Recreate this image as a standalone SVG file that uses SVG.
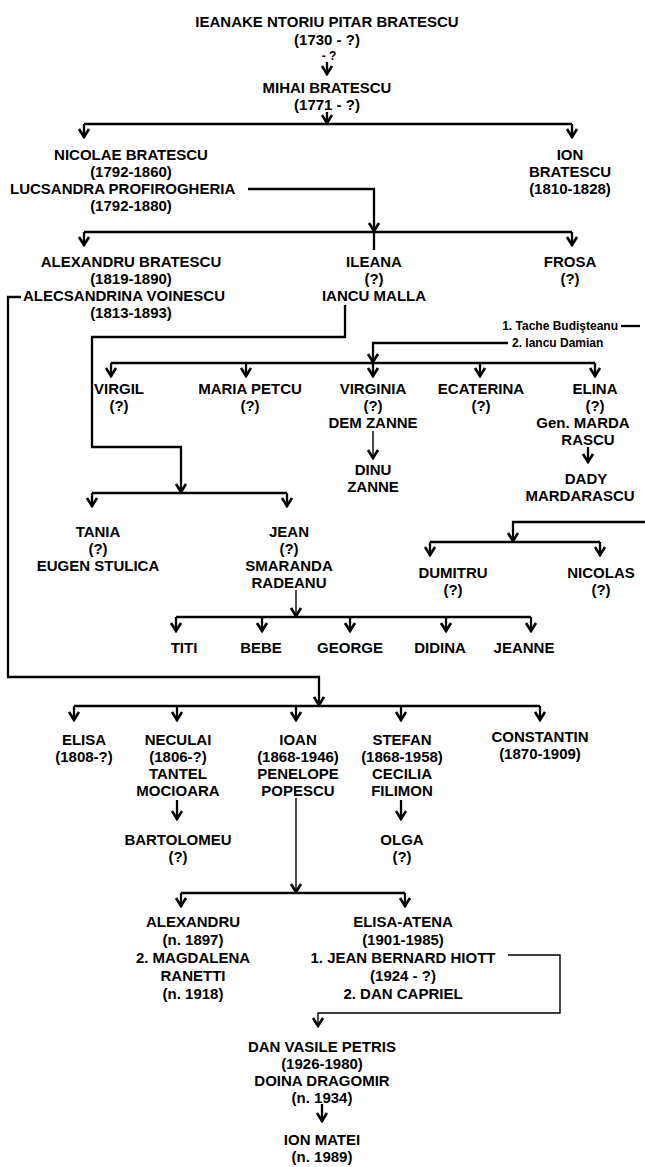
<svg xmlns="http://www.w3.org/2000/svg" width="645" height="1167" viewBox="0 0 645 1167">
<style>
text{font-family:"Liberation Sans",Arial,sans-serif;font-weight:bold;font-size:15px;fill:#000;text-anchor:middle}
.sm{font-size:12px}
.st{text-anchor:start}
.en{text-anchor:end}
.c{fill:none;stroke:#000;stroke-width:2.3}
.t{fill:none;stroke:#000;stroke-width:1.4}
.a{marker-end:url(#ah)}
</style>
<defs>
<marker id="ah" viewBox="-10 -7 12 14" refX="1" refY="0" markerWidth="12" markerHeight="14" markerUnits="userSpaceOnUse" orient="auto">
<path d="M-8,-5 L0,0 L-8,5" fill="none" stroke="#000" stroke-width="2.6"/>
</marker>
</defs>
<rect width="645" height="1167" fill="#fff"/>
<g id="connectors">
<line class="c a" x1="327" y1="62" x2="327" y2="75"/>
<line class="c a" x1="327" y1="112" x2="327" y2="124"/>
<line class="c" x1="84" y1="124" x2="572" y2="124"/>
<line class="c a" x1="84" y1="124" x2="84" y2="138"/>
<line class="c a" x1="572" y1="124" x2="572" y2="138"/>
<polyline class="c a" points="248,189 374,189 374,232"/>
<line class="c" x1="84" y1="232" x2="572" y2="232"/>
<line class="c a" x1="84" y1="232" x2="84" y2="246"/>
<line class="c a" x1="572" y1="232" x2="572" y2="246"/>
<line class="c" x1="374" y1="232" x2="374" y2="250"/>
<polyline class="c a" points="21,297 8,297 8,677 319,677 319,706"/>
<line class="c" x1="74" y1="706" x2="540" y2="706"/>
<line class="c a" x1="74" y1="706" x2="74" y2="721"/>
<line class="c a" x1="177" y1="706" x2="177" y2="721"/>
<line class="c a" x1="296" y1="706" x2="296" y2="721"/>
<line class="c a" x1="401" y1="706" x2="401" y2="721"/>
<line class="c a" x1="540" y1="706" x2="540" y2="721"/>
<polyline class="c a" points="345,305 345,337 92,337 92,447 181,447 181,493"/>
<line class="c" x1="92" y1="493" x2="287" y2="493"/>
<line class="c a" x1="92" y1="493" x2="92" y2="507"/>
<line class="c a" x1="287" y1="493" x2="287" y2="507"/>
<polyline class="c a" points="508,343 373,343 373,363"/>
<line class="c" x1="621" y1="326" x2="640" y2="326"/>
<line class="c" x1="111" y1="363" x2="595" y2="363"/>
<line class="c a" x1="111" y1="363" x2="111" y2="377"/>
<line class="c a" x1="246" y1="363" x2="246" y2="377"/>
<line class="c a" x1="373" y1="363" x2="373" y2="377"/>
<line class="c a" x1="480" y1="363" x2="480" y2="377"/>
<line class="c a" x1="595" y1="363" x2="595" y2="377"/>
<line class="t a" x1="373" y1="431" x2="373" y2="459"/>
<line class="c a" x1="588" y1="447" x2="588" y2="463"/>
<polyline class="c a" points="645,522 513,522 513,542"/>
<line class="c" x1="430" y1="542" x2="600" y2="542"/>
<line class="c a" x1="430" y1="542" x2="430" y2="556"/>
<line class="c a" x1="600" y1="542" x2="600" y2="556"/>
<line class="t a" x1="296" y1="590" x2="296" y2="617"/>
<line class="c" x1="176" y1="617" x2="531" y2="617"/>
<line class="c a" x1="176" y1="617" x2="176" y2="632"/>
<line class="c a" x1="262" y1="617" x2="262" y2="632"/>
<line class="c a" x1="350" y1="617" x2="350" y2="632"/>
<line class="c a" x1="446" y1="617" x2="446" y2="632"/>
<line class="c a" x1="531" y1="617" x2="531" y2="632"/>
<line class="c a" x1="177" y1="800" x2="177" y2="820"/>
<line class="c a" x1="401" y1="800" x2="401" y2="820"/>
<line class="t a" x1="296" y1="798" x2="296" y2="893"/>
<line class="c" x1="181" y1="893" x2="405" y2="893"/>
<line class="c a" x1="181" y1="893" x2="181" y2="907"/>
<line class="c a" x1="405" y1="893" x2="405" y2="907"/>
<polyline class="t a" points="508,955 560,955 560,1013 318,1013 318,1027"/>
<line class="c a" x1="322" y1="1104" x2="322" y2="1122"/>
</g>
<g id="n-ieanake">
<text x="327" y="27">IEANAKE NTORIU PITAR BRATESCU</text>
<text x="327" y="45">(1730 - ?)</text>
<text x="329" y="60" class="sm">- ?</text>
</g>
<g id="n-mihai">
<text x="327" y="93">MIHAI BRATESCU</text>
<text x="327" y="110">(1771 - ?)</text>
</g>
<g id="n-nicolae">
<text x="131" y="160">NICOLAE BRATESCU</text>
<text x="131" y="177">(1792-1860)</text>
<text x="10" y="194" class="st">LUCSANDRA PROFIROGHERIA</text>
<text x="131" y="211">(1792-1880)</text>
</g>
<g id="n-ion">
<text x="570" y="160">ION</text>
<text x="570" y="177">BRATESCU</text>
<text x="570" y="194">(1810-1828)</text>
</g>
<g id="n-alexandru">
<text x="131" y="267">ALEXANDRU BRATESCU</text>
<text x="131" y="284">(1819-1890)</text>
<text x="23" y="301" class="st">ALECSANDRINA VOINESCU</text>
<text x="131" y="318">(1813-1893)</text>
</g>
<g id="n-ileana">
<text x="374" y="267">ILEANA</text>
<text x="374" y="284">(?)</text>
<text x="374" y="301">IANCU MALLA</text>
</g>
<g id="n-frosa">
<text x="570" y="267">FROSA</text>
<text x="570" y="284">(?)</text>
</g>
<g id="n-spouses">
<text x="618" y="330" class="sm en">1. Tache Budişteanu</text>
<text x="512" y="347" class="sm st">2. Iancu Damian</text>
</g>
<g id="n-virgil">
<text x="119" y="394">VIRGIL</text>
<text x="119" y="411">(?)</text>
</g>
<g id="n-maria">
<text x="250" y="394">MARIA PETCU</text>
<text x="250" y="411">(?)</text>
</g>
<g id="n-virginia">
<text x="373" y="394">VIRGINIA</text>
<text x="373" y="411">(?)</text>
<text x="373" y="428">DEM ZANNE</text>
</g>
<g id="n-ecaterina">
<text x="481" y="394">ECATERINA</text>
<text x="481" y="411">(?)</text>
</g>
<g id="n-elina">
<text x="595" y="394">ELINA</text>
<text x="595" y="411">(?)</text>
<text x="583" y="428">Gen. MARDA</text>
<text x="588" y="445">RASCU</text>
</g>
<g id="n-dinu">
<text x="373" y="475">DINU</text>
<text x="373" y="492">ZANNE</text>
</g>
<g id="n-dady">
<text x="586" y="484">DADY</text>
<text x="580" y="501">MARDARASCU</text>
</g>
<g id="n-tania">
<text x="98" y="537">TANIA</text>
<text x="98" y="554">(?)</text>
<text x="98" y="571">EUGEN STULICA</text>
</g>
<g id="n-jean">
<text x="289" y="537">JEAN</text>
<text x="289" y="554">(?)</text>
<text x="289" y="571">SMARANDA</text>
<text x="289" y="588">RADEANU</text>
</g>
<g id="n-dumitru">
<text x="453" y="578">DUMITRU</text>
<text x="453" y="595">(?)</text>
</g>
<g id="n-nicolas">
<text x="601" y="578">NICOLAS</text>
<text x="601" y="595">(?)</text>
</g>
<g id="n-titi"><text x="184" y="653">TITI</text></g>
<g id="n-bebe"><text x="261" y="653">BEBE</text></g>
<g id="n-george"><text x="350" y="653">GEORGE</text></g>
<g id="n-didina"><text x="440" y="653">DIDINA</text></g>
<g id="n-jeanne"><text x="524" y="653">JEANNE</text></g>
<g id="n-elisa">
<text x="84" y="745">ELISA</text>
<text x="84" y="762">(1808-?)</text>
</g>
<g id="n-neculai">
<text x="178" y="745">NECULAI</text>
<text x="178" y="762">(1806-?)</text>
<text x="178" y="779">TANTEL</text>
<text x="178" y="796">MOCIOARA</text>
</g>
<g id="n-ioan">
<text x="298" y="745">IOAN</text>
<text x="298" y="762">(1868-1946)</text>
<text x="298" y="779">PENELOPE</text>
<text x="298" y="796">POPESCU</text>
</g>
<g id="n-stefan">
<text x="402" y="745">STEFAN</text>
<text x="402" y="762">(1868-1958)</text>
<text x="402" y="779">CECILIA</text>
<text x="402" y="796">FILIMON</text>
</g>
<g id="n-constantin">
<text x="540" y="742">CONSTANTIN</text>
<text x="540" y="759">(1870-1909)</text>
</g>
<g id="n-bartolomeu">
<text x="178" y="845">BARTOLOMEU</text>
<text x="178" y="862">(?)</text>
</g>
<g id="n-olga">
<text x="402" y="845">OLGA</text>
<text x="402" y="862">(?)</text>
</g>
<g id="n-alexandru2">
<text x="193" y="927">ALEXANDRU</text>
<text x="193" y="945">(n. 1897)</text>
<text x="193" y="963">2. MAGDALENA</text>
<text x="193" y="981">RANETTI</text>
<text x="193" y="999">(n. 1918)</text>
</g>
<g id="n-elisa-atena">
<text x="403" y="927">ELISA-ATENA</text>
<text x="403" y="945">(1901-1985)</text>
<text x="403" y="963">1. JEAN BERNARD HIOTT</text>
<text x="403" y="981">(1924 - ?)</text>
<text x="403" y="999">2. DAN CAPRIEL</text>
</g>
<g id="n-dan">
<text x="322" y="1052">DAN VASILE PETRIS</text>
<text x="322" y="1069">(1926-1980)</text>
<text x="322" y="1086">DOINA DRAGOMIR</text>
<text x="322" y="1103">(n. 1934)</text>
</g>
<g id="n-ionmatei">
<text x="322" y="1145">ION MATEI</text>
<text x="322" y="1162">(n. 1989)</text>
</g>
</svg>
